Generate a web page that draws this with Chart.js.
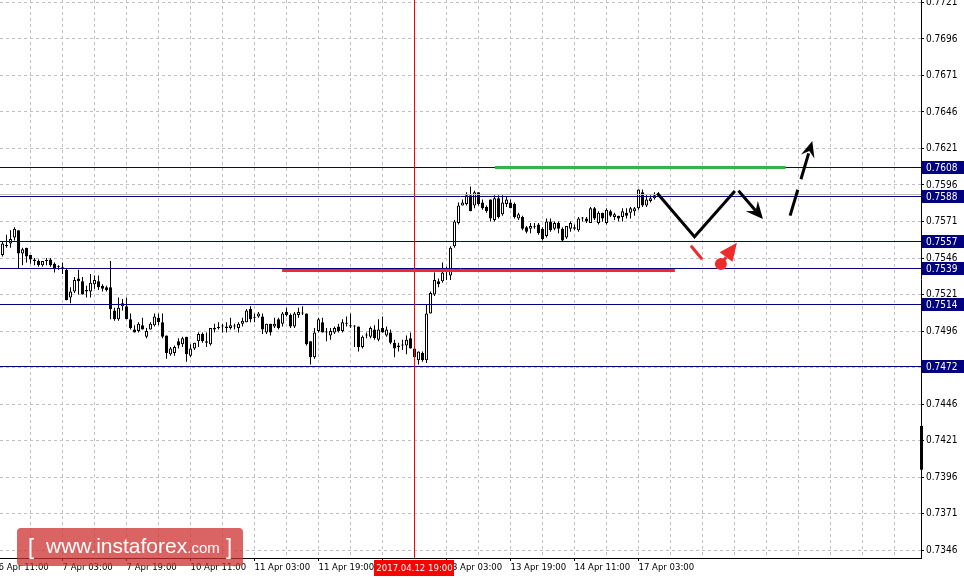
<!DOCTYPE html>
<html>
<head>
<meta charset="utf-8">
<script src="https://cdn.jsdelivr.net/npm/chart.js@4.4.0/dist/chart.umd.min.js"></script>
<style>
  html, body { margin: 0; padding: 0; background: #ffffff; }
  #wrap { width: 964px; height: 578px; }
</style>
</head>
<body>
<div id="wrap"><canvas id="chartFx" width="964" height="578"></canvas></div>
<script>
// H1 candles, bar numbers count hours from 6 Apr 11:00 (bar 0)
const firstBar = 1;

const opens = [
  0.7548,0.7554,0.7556,0.7560,0.7565,0.7549,0.7553,0.7548,0.7545,0.7544,
  0.7541,0.7544,0.7545,0.7542,0.7540,0.7539,0.7538,0.7519,0.7523,0.7532,
  0.7530,0.7523,0.7523,0.7528,0.7530,0.7527,0.7526,0.7526,0.7510,0.7504,
  0.7513,0.7513,0.7504,0.7497,0.7496,0.7500,0.7492,0.7497,0.7500,0.7505,
  0.7502,0.7493,0.7480,0.7481,0.7489,0.7487,0.7492,0.7479,0.7484,0.7489,
  0.7494,0.7489,0.7487,0.7497,0.7498,0.7499,0.7498,0.7498,0.7499,0.7498,
  0.7501,0.7502,0.7511,0.7505,0.7506,0.7506,0.7495,0.7501,0.7499,0.7504,
  0.7501,0.7509,0.7507,0.7499,0.7507,0.7508,0.7508,0.7489,0.7478,0.7496,
  0.7502,0.7495,0.7493,0.7495,0.7499,0.7496,0.7501,0.7500,0.7499,0.7499,
  0.7485,0.7493,0.7492,0.7497,0.7490,0.7498,0.7493,0.7495,0.7488,0.7486,
  0.7486,0.7486,0.7491,0.7484,0.7476,0.7481,0.7476,0.7508,0.7521,0.7530,
  0.7530,0.7537,0.7534,0.7554,0.7570,0.7582,0.7583,0.7589,0.7582,0.7591,
  0.7584,0.7581,0.7586,0.7572,0.7587,0.7576,0.7583,0.7584,0.7583,0.7573,
  0.7574,0.7567,0.7566,0.7567,0.7569,0.7566,0.7561,0.7571,0.7566,0.7570,
  0.7566,0.7560,0.7566,0.7567,0.7565,0.7573,0.7573,0.7570,0.7580,0.7570,
  0.7577,0.7570,0.7578,0.7574,0.7575,0.7574,0.7577,0.7577,0.7578,0.7580,
  0.7591,0.7582,0.7585,0.7587,0.7590
];
const highs = [
  0.7557,0.7562,0.7565,0.7567,0.7565,0.7553,0.7553,0.7548,0.7546,0.7545,
  0.7544,0.7546,0.7546,0.7543,0.7541,0.7543,0.7539,0.7526,0.7533,0.7538,
  0.7533,0.7527,0.7535,0.7534,0.7534,0.7528,0.7527,0.7544,0.7512,0.7519,
  0.7518,0.7519,0.7508,0.7500,0.7502,0.7505,0.7498,0.7502,0.7508,0.7508,
  0.7508,0.7493,0.7485,0.7486,0.7491,0.7492,0.7492,0.7487,0.7488,0.7495,
  0.7495,0.7495,0.7498,0.7501,0.7502,0.7501,0.7502,0.7505,0.7501,0.7502,
  0.7505,0.7511,0.7513,0.7508,0.7509,0.7508,0.7501,0.7501,0.7505,0.7505,
  0.7509,0.7512,0.7508,0.7509,0.7512,0.7513,0.7508,0.7489,0.7498,0.7505,
  0.7505,0.7498,0.7498,0.7499,0.7501,0.7504,0.7506,0.7508,0.7500,0.7499,
  0.7493,0.7495,0.7499,0.7500,0.7504,0.7506,0.7499,0.7497,0.7490,0.7488,
  0.7490,0.7493,0.7495,0.7484,0.7482,0.7482,0.7514,0.7523,0.7536,0.7532,
  0.7543,0.7540,0.7554,0.7572,0.7584,0.7586,0.7591,0.7595,0.7592,0.7591,
  0.7586,0.7582,0.7586,0.7589,0.7589,0.7589,0.7588,0.7586,0.7584,0.7577,
  0.7575,0.7568,0.7570,0.7570,0.7570,0.7567,0.7573,0.7573,0.7571,0.7571,
  0.7567,0.7568,0.7571,0.7569,0.7574,0.7574,0.7574,0.7581,0.7581,0.7578,
  0.7577,0.7580,0.7579,0.7577,0.7575,0.7580,0.7580,0.7581,0.7581,0.7593,
  0.7593,0.7589,0.7589,0.7591,0.7591
];
const lows = [
  0.7547,0.7553,0.7553,0.7558,0.7539,0.7541,0.7543,0.7542,0.7541,0.7540,
  0.7540,0.7541,0.7540,0.7536,0.7538,0.7535,0.7517,0.7515,0.7522,0.7521,
  0.7521,0.7519,0.7519,0.7525,0.7524,0.7523,0.7523,0.7504,0.7503,0.7503,
  0.7510,0.7504,0.7497,0.7495,0.7495,0.7497,0.7491,0.7497,0.7499,0.7500,
  0.7491,0.7477,0.7479,0.7479,0.7484,0.7485,0.7475,0.7478,0.7483,0.7485,
  0.7488,0.7485,0.7486,0.7495,0.7497,0.7495,0.7495,0.7497,0.7497,0.7495,
  0.7499,0.7502,0.7502,0.7502,0.7505,0.7494,0.7494,0.7493,0.7498,0.7497,
  0.7499,0.7506,0.7498,0.7498,0.7505,0.7507,0.7486,0.7473,0.7477,0.7495,
  0.7495,0.7489,0.7490,0.7494,0.7495,0.7495,0.7499,0.7498,0.7485,0.7482,
  0.7484,0.7491,0.7491,0.7490,0.7489,0.7495,0.7492,0.7487,0.7478,0.7482,
  0.7483,0.7480,0.7484,0.7477,0.7473,0.7475,0.7474,0.7508,0.7520,0.7526,
  0.7529,0.7531,0.7531,0.7553,0.7569,0.7582,0.7582,0.7578,0.7580,0.7582,
  0.7579,0.7577,0.7571,0.7571,0.7573,0.7575,0.7581,0.7580,0.7573,0.7572,
  0.7565,0.7563,0.7563,0.7566,0.7562,0.7558,0.7560,0.7564,0.7565,0.7563,
  0.7557,0.7559,0.7564,0.7565,0.7564,0.7571,0.7570,0.7570,0.7572,0.7569,
  0.7571,0.7569,0.7574,0.7572,0.7571,0.7571,0.7573,0.7573,0.7575,0.7579,
  0.7581,0.7581,0.7584,0.7586,0.7588
];
const closes = [
  0.7556,0.7555,0.7559,0.7566,0.7549,0.7552,0.7547,0.7545,0.7544,0.7541,
  0.7544,0.7544,0.7541,0.7539,0.7540,0.7539,0.7517,0.7523,0.7531,0.7530,
  0.7521,0.7524,0.7529,0.7531,0.7526,0.7525,0.7524,0.7511,0.7504,0.7512,
  0.7515,0.7504,0.7498,0.7495,0.7501,0.7497,0.7496,0.7501,0.7506,0.7502,
  0.7492,0.7481,0.7484,0.7485,0.7486,0.7491,0.7480,0.7484,0.7488,0.7494,
  0.7489,0.7488,0.7498,0.7498,0.7498,0.7499,0.7499,0.7500,0.7499,0.7501,
  0.7503,0.7510,0.7504,0.7505,0.7508,0.7497,0.7501,0.7495,0.7501,0.7498,
  0.7508,0.7507,0.7499,0.7508,0.7509,0.7508,0.7487,0.7478,0.7495,0.7504,
  0.7495,0.7495,0.7496,0.7498,0.7496,0.7502,0.7501,0.7499,0.7499,0.7485,
  0.7492,0.7493,0.7498,0.7491,0.7497,0.7495,0.7497,0.7488,0.7484,0.7485,
  0.7486,0.7490,0.7484,0.7478,0.7482,0.7476,0.7508,0.7522,0.7531,0.7528,
  0.7536,0.7537,0.7553,0.7571,0.7582,0.7584,0.7589,0.7578,0.7591,0.7583,
  0.7580,0.7578,0.7573,0.7587,0.7574,0.7584,0.7586,0.7580,0.7574,0.7576,
  0.7566,0.7564,0.7568,0.7567,0.7563,0.7559,0.7571,0.7565,0.7570,0.7566,
  0.7558,0.7568,0.7570,0.7566,0.7573,0.7573,0.7571,0.7580,0.7573,0.7577,
  0.7573,0.7579,0.7575,0.7576,0.7573,0.7578,0.7575,0.7580,0.7580,0.7593,
  0.7582,0.7586,0.7587,0.7589,0.7589
];

const yTickValues = [0.7721,0.7696,0.7671,0.7646,0.7621,0.7596,0.7571,0.7546,
  0.7521,0.7496,0.7471,0.7446,0.7421,0.7396,0.7371,0.7346];
const xLabelBars = [0,16,32,48,64,80,96,112,128,144,160];
const xLabelTexts = ['6 Apr 11:00','7 Apr 03:00','7 Apr 19:00','10 Apr 11:00',
  '11 Apr 03:00','11 Apr 19:00','12 Apr 11:00','13 Apr 03:00','13 Apr 19:00',
  '14 Apr 11:00','17 Apr 03:00'];
const gridStepBars = 8;

const levelPrices = [0.7608,0.7588,0.7557,0.7539,0.7514,0.7472];
const markerBar = 104;
const markerText = '2017.04.12 19:00';

// hand drawn forecast marks, [bar, price]
const greenLine = [[124.1,0.7608],[196.8,0.7608]];
const redLine = [[70.9,0.75375],[169.1,0.75375]];
const zigzag = [[164.7,0.75903],[174.0,0.75606],[184.1,0.75919]];
const downArrow = [[185.0,0.75921],[191.1,0.75727]];
const upArrow = [[197.9,0.75750],[203.45,0.76261]];
const redStroke = [[173.1,0.75544],[175.9,0.75451]];
const redDotArrow = [[180.6,0.75419],[184.6,0.75565]];
const scrollMark = [0.7431,0.7401];

const fontFamily = "'DejaVu Sans Condensed', 'DejaVu Sans', sans-serif";
const yFont = {family: fontFamily, size: 10};
const xFont = {family: fontFamily, size: 9.5};

let wicks = [], bodies = [], bodyFill = [];
for (let k = 0; k < opens.length; k++) {
  wicks.push({x: firstBar + k, y: [lows[k], highs[k]]});
  bodies.push({x: firstBar + k, y: [opens[k], closes[k]]});
  bodyFill.push(closes[k] > opens[k] ? '#ffffff' : '#000000');
}

function px(chart, p) {
  return [chart.scales.x.getPixelForValue(p[0]), chart.scales.y.getPixelForValue(p[1])];
}

function drawPath(ctx, pts, color, width, dash) {
  ctx.save();
  ctx.strokeStyle = color;
  ctx.lineWidth = width;
  ctx.lineJoin = 'miter';
  ctx.setLineDash(dash || []);
  ctx.beginPath();
  pts.forEach(function (p, i) { if (i == 0) ctx.moveTo(p[0], p[1]); else ctx.lineTo(p[0], p[1]); });
  ctx.stroke();
  ctx.restore();
}

// arrow from a to b, shaft stops inside the head
function drawArrow(ctx, a, b, color, width, len, half, notch, dash) {
  let ang = Math.atan2(b[1] - a[1], b[0] - a[0]);
  let back = len * notch;
  let end = [b[0] - Math.cos(ang) * back, b[1] - Math.sin(ang) * back];
  drawPath(ctx, [a, end], color, width, dash);
  ctx.save();
  ctx.translate(b[0], b[1]);
  ctx.rotate(ang);
  ctx.fillStyle = color;
  ctx.beginPath();
  ctx.moveTo(0, 0);
  ctx.lineTo(-len, -half);
  ctx.lineTo(-len * notch, 0);
  ctx.lineTo(-len, half);
  ctx.closePath();
  ctx.fill();
  ctx.restore();
}

const fxDrawings = {
  id: 'fxDrawings',
  afterDatasetsDraw(chart) {
    const ctx = chart.ctx;
    const area = chart.chartArea;
    const ys = chart.scales.y, xs = chart.scales.x;
    ctx.save();
    ctx.beginPath();
    ctx.rect(area.left, area.top, area.right - area.left, area.bottom - area.top);
    ctx.clip();

    // bid line
    let by = Math.floor(ys.getPixelForValue(closes[closes.length - 1]) - 1) + 0.5;
    drawPath(ctx, [[area.left, by], [area.right, by]], '#c0c0c0', 1);

    levelPrices.forEach(function (v) {
      let y = Math.floor(ys.getPixelForValue(v)) + 0.5;
      drawPath(ctx, [[area.left, y], [area.right, y]], '#000080', 1);
    });

    let mx = Math.floor(xs.getPixelForValue(markerBar)) + 0.5;
    drawPath(ctx, [[mx, area.top], [mx, area.bottom]], '#ff0000', 1);

    drawPath(ctx, greenLine.map(p => px(chart, p)), '#34b44a', 3);
    drawPath(ctx, redLine.map(p => px(chart, p)), '#ee2a2a', 3);
    drawPath(ctx, zigzag.map(p => px(chart, p)), '#000000', 3);
    drawArrow(ctx, px(chart, downArrow[0]), px(chart, downArrow[1]), '#000000', 3, 17, 8, 0.65);
    drawArrow(ctx, px(chart, upArrow[0]), px(chart, upArrow[1]), '#000000', 3, 16, 7, 0.65, [27, 11]);
    drawPath(ctx, redStroke.map(p => px(chart, p)), '#ee2a2a', 3);

    let d0 = px(chart, redDotArrow[0]), d1 = px(chart, redDotArrow[1]);
    ctx.fillStyle = '#ee2a2a';
    ctx.beginPath();
    ctx.arc(d0[0], d0[1], 6, 0, Math.PI * 2);
    ctx.fill();
    drawArrow(ctx, d0, d1, '#ee2a2a', 3, 18, 8, 1);
    ctx.restore();
  },
  afterDraw(chart) {
    const ctx = chart.ctx;
    const area = chart.chartArea;
    const ys = chart.scales.y, xs = chart.scales.x;
    ctx.save();
    ctx.font = yFont.size + 'px ' + fontFamily;
    ctx.textBaseline = 'middle';

    // small bar sitting on the price axis
    let s0 = ys.getPixelForValue(scrollMark[0]), s1 = ys.getPixelForValue(scrollMark[1]);
    ctx.fillStyle = '#000000';
    ctx.fillRect(area.right - 1, s0, 3, s1 - s0);

    levelPrices.forEach(function (v) {
      let y = Math.floor(ys.getPixelForValue(v)) + 0.5;
      ctx.fillStyle = '#000080';
      ctx.fillRect(area.right + 1, y - 6.5, chart.width - area.right - 1, 13);
      ctx.fillStyle = '#ffffff';
      ctx.textAlign = 'left';
      ctx.fillText(v.toFixed(4), area.right + 5, y + 0.5);
    });

    ctx.font = xFont.size + 'px ' + fontFamily;
    let mx = Math.floor(xs.getPixelForValue(markerBar)) + 0.5;
    let tw = ctx.measureText(markerText).width;
    ctx.fillStyle = '#ff0000';
    ctx.fillRect(Math.round(mx - tw / 2 - 2), area.bottom + 2, Math.round(tw + 4), 16);
    ctx.fillStyle = '#ffffff';
    ctx.textAlign = 'center';
    ctx.fillText(markerText, mx, area.bottom + 10.5);

    // watermark
    ctx.fillStyle = 'rgba(205, 45, 45, 0.74)';
    ctx.beginPath();
    ctx.roundRect(17, 528, 226, 38, 4);
    ctx.fill();
    ctx.fillStyle = '#ffffff';
    ctx.textBaseline = 'alphabetic';
    ctx.textAlign = 'left';
    ctx.font = "22px 'Liberation Sans', Arial, sans-serif";
    ctx.fillText('[', 28, 554);
    ctx.font = "21px 'Liberation Sans', Arial, sans-serif";
    ctx.fillText('www.instaforex', 46, 553);
    let w1 = ctx.measureText('www.instaforex').width;
    ctx.font = "15px 'Liberation Sans', Arial, sans-serif";
    ctx.fillText('.com', 46 + w1, 553);
    ctx.font = "22px 'Liberation Sans', Arial, sans-serif";
    ctx.fillText(']', 226, 554);
    ctx.restore();
  }
};

let ctx = document.getElementById('chartFx').getContext('2d');

let fxChart = new Chart(ctx, {
  type: 'bar',
  data: {
    datasets: [
      {
        label: 'body',
        data: bodies,
        backgroundColor: bodyFill,
        borderColor: '#000000',
        borderWidth: 1,
        borderSkipped: false,
        barThickness: 3,
        minBarLength: 1,
        inflateAmount: 0,
        grouped: false,
        order: 0
      },
      {
        label: 'wick',
        data: wicks,
        backgroundColor: '#000000',
        borderWidth: 0,
        barThickness: 1,
        inflateAmount: 0,
        grouped: false,
        order: 1
      }
    ]
  },
  options: {
    responsive: false,
    animation: false,
    events: [],
    layout: { padding: 0 },
    plugins: { legend: { display: false }, tooltip: { enabled: false } },
    scales: {
      x: {
        type: 'linear',
        bounds: 'data',
        offset: false,
        min: 0.375,
        max: 230.625,
        grid: {
          offset: false,
          color: '#c0c0c0',
          tickLength: 3,
          tickColor: function (c) {
            return c.tick && xLabelBars.indexOf(c.tick.value) >= 0 ? '#000000' : 'rgba(0,0,0,0)';
          }
        },
        border: { display: true, color: '#000000', dash: [3, 3] },
        ticks: {
          autoSkip: false,
          maxRotation: 0,
          align: 'start',
          padding: 1,
          color: '#000000',
          font: xFont,
          callback: function (value) {
            let k = xLabelBars.indexOf(value);
            return k >= 0 ? xLabelTexts[k] : '';
          }
        },
        afterBuildTicks: function (scale) {
          let t = [];
          for (let b = 0; b < 230; b += gridStepBars) t.push({ value: b });
          scale.ticks = t;
        },
        afterFit: function (scale) {
          scale.height = 20;
          scale.paddingLeft = 0;
          scale.paddingRight = 0;
        }
      },
      y: {
        type: 'linear',
        position: 'right',
        bounds: 'data',
        min: 0.7340521,
        max: 0.7722712,
        grid: { color: '#c0c0c0', tickLength: 3, tickColor: '#000000' },
        border: { display: true, color: '#000000', dash: [3, 3] },
        ticks: {
          autoSkip: false,
          crossAlign: 'near',
          padding: 2,
          color: '#000000',
          font: yFont,
          callback: function (value) { return value.toFixed(4); }
        },
        afterBuildTicks: function (scale) {
          scale.ticks = yTickValues.map(function (v) { return { value: v }; });
        },
        afterFit: function (scale) {
          scale.width = 43;
          scale.paddingTop = 0;
          scale.paddingBottom = 0;
        }
      }
    }
  },
  plugins: [fxDrawings]
});
</script>
</body>
</html>
